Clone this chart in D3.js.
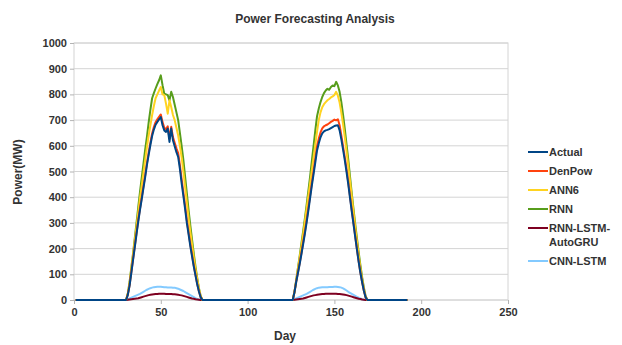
<!DOCTYPE html>
<html>
<head>
<meta charset="utf-8">
<script src="https://cdn.jsdelivr.net/npm/d3@7"></script>
<style>
  body { margin: 0; background: #fff; }
  svg { display: block; font-family: "Liberation Sans", Arial, sans-serif; font-weight: bold; }
</style>
</head>
<body>
<div id="chart"></div>
<script>
// x values: day index 1..192
const days = d3.range(1, 193);

const seriesNames = ["Actual", "DenPow", "ANN6", "RNN", "RNN-LSTM-AutoGRU", "CNN-LSTM"];

const actual = [
  0,0,0,0,0,0,0,0,0,0, 0,0,0,0,0,0,0,0,0,0, 0,0,0,0,0,0,0,0,0,0,
  20,55,105,155,205,255,305,350,392,435,478,525,565,603,638,663,682,693,703,712,
  680,660,654,667,615,667,622,598,575,557,510,455,405,355,300,255,210,170,130,95,60,32,10,
  0,0,0,0,0,0,0,0,0,0, 0,0,0,0,0,0,0,0,0,0, 0,0,0,0,0,0,0,0,0,0, 0,0,0,0,0,0,0,0,0,0, 0,0,0,0,0,0,0,0,0,0, 0,0,0,
  30,70,105,140,178,218,258,302,348,396,445,490,536,582,610,633,648,656,660,662,
  665,669,673,677,679,680,660,625,585,543,498,450,396,345,295,245,195,147,105,68,35,10,
  0,0,0,0,0,0,0,0,0,0, 0,0,0,0,0,0,0,0,0,0, 0,0,0,0
];

const denPow = [
  0,0,0,0,0,0,0,0,0,0, 0,0,0,0,0,0,0,0,0,0, 0,0,0,0,0,0,0,0,0,0,
  21,57,108,158,209,260,310,356,398,442,485,532,573,612,648,673,692,703,713,722,
  692,670,664,676,628,674,634,612,590,572,525,470,418,366,310,263,217,175,134,98,62,33,10,
  0,0,0,0,0,0,0,0,0,0, 0,0,0,0,0,0,0,0,0,0, 0,0,0,0,0,0,0,0,0,0, 0,0,0,0,0,0,0,0,0,0, 0,0,0,0,0,0,0,0,0,0, 0,0,0,
  31,72,108,144,183,224,265,310,357,406,456,502,550,598,628,652,668,676,680,683,
  688,693,697,702,699,703,680,640,598,555,508,458,403,350,300,249,198,149,106,69,36,10,
  0,0,0,0,0,0,0,0,0,0, 0,0,0,0,0,0,0,0,0,0, 0,0,0,0
];

const ann6 = [
  0,0,0,0,0,0,0,0,0,0, 0,0,0,0,0,0,0,0,0,0, 0,0,0,0,0,0,0,0,0,0,
  25,65,120,175,230,285,340,395,445,495,545,595,640,680,720,755,785,800,815,829,
  800,797,764,725,777,751,720,700,670,640,600,555,500,440,380,320,265,215,165,120,80,42,14,
  0,0,0,0,0,0,0,0,0,0, 0,0,0,0,0,0,0,0,0,0, 0,0,0,0,0,0,0,0,0,0, 0,0,0,0,0,0,0,0,0,0, 0,0,0,0,0,0,0,0,0,0, 0,0,0,
  30,75,120,165,210,255,305,355,405,455,505,555,605,655,700,730,750,762,770,777,
  782,788,792,798,810,795,768,728,683,633,578,522,462,402,342,283,228,173,123,78,40,12,
  0,0,0,0,0,0,0,0,0,0, 0,0,0,0,0,0,0,0,0,0, 0,0,0,0
];

const rnn = [
  0,0,0,0,0,0,0,0,0,0, 0,0,0,0,0,0,0,0,0,0, 0,0,0,0,0,0,0,0,0,0,
  25,70,125,180,240,300,360,420,475,530,585,635,690,740,785,805,823,840,855,874,
  836,803,800,797,777,810,790,760,730,700,650,600,545,480,415,350,290,235,180,130,85,45,15,
  0,0,0,0,0,0,0,0,0,0, 0,0,0,0,0,0,0,0,0,0, 0,0,0,0,0,0,0,0,0,0, 0,0,0,0,0,0,0,0,0,0, 0,0,0,0,0,0,0,0,0,0, 0,0,0,
  32,78,125,172,220,268,318,370,425,480,540,600,660,715,745,770,790,805,815,822,
  818,829,835,832,849,835,810,770,720,665,605,545,480,415,355,295,240,185,135,88,48,15,
  0,0,0,0,0,0,0,0,0,0, 0,0,0,0,0,0,0,0,0,0, 0,0,0,0
];

const autoGru = [
  0,0,0,0,0,0,0,0,0,0, 0,0,0,0,0,0,0,0,0,0, 0,0,0,0,0,0,0,0,0,0,
  1,2,3,4,5,6,7,9,11,13,15,17,19,20,21,22,23,23,24,24,
  24,24,23,23,23,23,22,22,21,20,19,18,16,14,12,10,8,6,5,3,2,1,0,
  0,0,0,0,0,0,0,0,0,0, 0,0,0,0,0,0,0,0,0,0, 0,0,0,0,0,0,0,0,0,0, 0,0,0,0,0,0,0,0,0,0, 0,0,0,0,0,0,0,0,0,0, 0,0,0,
  1,2,3,4,5,6,8,10,12,14,16,18,19,20,21,22,23,23,24,24,
  24,24,24,24,24,23,23,22,21,20,19,17,15,13,11,9,7,5,4,2,1,0,
  0,0,0,0,0,0,0,0,0,0, 0,0,0,0,0,0,0,0,0,0, 0,0,0,0
];

const cnnLstm = [
  0,0,0,0,0,0,0,0,0,0, 0,0,0,0,0,0,0,0,0,0, 0,0,0,0,0,0,0,0,0,0,
  3,6,9,12,15,18,21,24,28,32,36,40,43,46,48,50,51,52,52,52,
  51,50,50,49,49,49,48,48,46,44,41,38,35,31,27,23,19,15,11,7,4,2,0,
  0,0,0,0,0,0,0,0,0,0, 0,0,0,0,0,0,0,0,0,0, 0,0,0,0,0,0,0,0,0,0, 0,0,0,0,0,0,0,0,0,0, 0,0,0,0,0,0,0,0,0,0, 0,0,0,
  3,6,9,12,15,18,21,24,28,32,36,40,43,46,48,49,50,50,50,50,
  51,51,51,52,52,51,50,48,45,41,37,32,28,24,20,16,12,9,6,3,1,0,
  0,0,0,0,0,0,0,0,0,0, 0,0,0,0,0,0,0,0,0,0, 0,0,0,0
];

const xTicks = [0, 50, 100, 150, 200, 250];
const yTicks = [0, 100, 200, 300, 400, 500, 600, 700, 800, 900, 1000];

const colors = ["#004586", "#ff420e", "#ffd320", "#579d1c", "#7e0021", "#83caff"];
const values = [actual, denPow, ann6, rnn, autoGru, cnnLstm];

let width = 622, height = 345;
let plotLeft = 74, plotRight = 508, plotTop = 43, plotBottom = 300;

let svg = d3.select("#chart").append("svg")
  .attr("width", width)
  .attr("height", height);

let xScale = d3.scaleLinear().domain([0, 250]).range([plotLeft, plotRight]);
let yScale = d3.scaleLinear().domain([0, 1000]).range([plotBottom, plotTop]);

// grid lines
svg.append("g")
  .selectAll("line")
  .data(yTicks)
  .enter().append("line")
    .attr("x1", plotLeft)
    .attr("x2", plotRight)
    .attr("y1", d => yScale(d))
    .attr("y2", d => yScale(d))
    .attr("stroke", "#d4d4d4")
    .attr("stroke-width", 1);

// plot border
svg.append("rect")
  .attr("x", plotLeft)
  .attr("y", plotTop)
  .attr("width", plotRight - plotLeft)
  .attr("height", plotBottom - plotTop)
  .attr("fill", "none")
  .attr("stroke", "#d4d4d4");

// axes
let yAxis = d3.axisLeft(yScale).tickValues(yTicks).tickFormat(d3.format("d")).tickSize(4).tickPadding(3);
let xAxis = d3.axisBottom(xScale).tickValues(xTicks).tickFormat(d3.format("d")).tickSize(4).tickPadding(4);

let gy = svg.append("g")
  .attr("transform", "translate(" + plotLeft + ",0)")
  .call(yAxis);

let gx = svg.append("g")
  .attr("transform", "translate(0," + plotBottom + ")")
  .call(xAxis);

[gx, gy].forEach(g => {
  g.select(".domain").remove();
  g.selectAll(".tick line").attr("stroke", "#b3b3b3");
  g.selectAll(".tick text")
    .attr("fill", "#333")
    .style("font-size", "11px")
    .style("font-weight", "bold")
    .style("font-family", "'Liberation Sans', Arial, sans-serif");
});

// lines, drawn in reverse so Actual sits on top
let line = d3.line()
  .x((d, i) => xScale(days[i]))
  .y(d => yScale(d));

let order = d3.range(values.length).reverse();

svg.append("g")
  .selectAll("path")
  .data(order)
  .enter().append("path")
    .attr("d", i => line(values[i]))
    .attr("fill", "none")
    .attr("stroke", i => colors[i])
    .attr("stroke-width", 2)
    .attr("stroke-linejoin", "round");

// title and axis labels
svg.append("text")
  .attr("x", 315)
  .attr("y", 23)
  .attr("text-anchor", "middle")
  .attr("fill", "#333")
  .style("font-size", "12px")
  .text("Power Forecasting Analysis");

svg.append("text")
  .attr("x", 285)
  .attr("y", 340)
  .attr("text-anchor", "middle")
  .attr("fill", "#333")
  .style("font-size", "12px")
  .text("Day");

svg.append("text")
  .attr("transform", "translate(22,172) rotate(-90)")
  .attr("text-anchor", "middle")
  .attr("fill", "#333")
  .style("font-size", "12px")
  .text("Power(MW)");

// legend
let legendRows = [
  { i: 0, y: 152, lines: ["Actual"] },
  { i: 1, y: 171, lines: ["DenPow"] },
  { i: 2, y: 190, lines: ["ANN6"] },
  { i: 3, y: 209, lines: ["RNN"] },
  { i: 4, y: 228, lines: ["RNN-LSTM-", "AutoGRU"] },
  { i: 5, y: 261, lines: ["CNN-LSTM"] }
];

let legend = svg.append("g");

legendRows.forEach(row => {
  legend.append("line")
    .attr("x1", 528)
    .attr("x2", 548)
    .attr("y1", row.y)
    .attr("y2", row.y)
    .attr("stroke", colors[row.i])
    .attr("stroke-width", 2);

  row.lines.forEach((t, k) => {
    legend.append("text")
      .attr("x", 549)
      .attr("y", row.y + 4 + k * 14)
      .attr("fill", "#333")
      .style("font-size", "11px")
      .text(t);
  });
});
</script>
</body>
</html>
